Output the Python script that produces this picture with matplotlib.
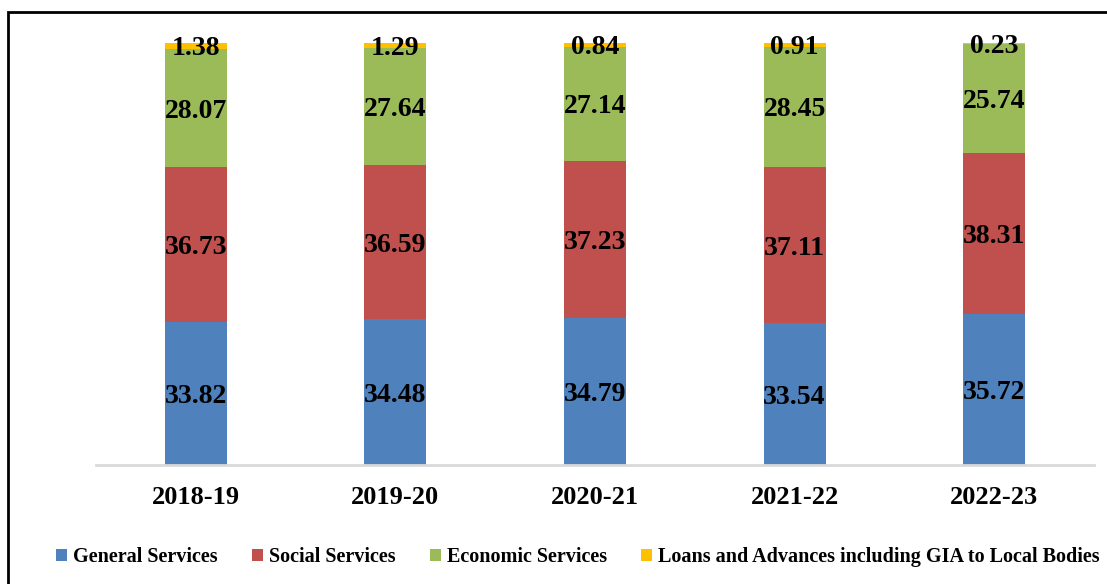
import numpy as np
import matplotlib.pyplot as plt
from matplotlib.patches import Rectangle

years = ["2018-19", "2019-20", "2020-21", "2021-22", "2022-23"]
general = [33.82, 34.48, 34.79, 33.54, 35.72]
social = [36.73, 36.59, 37.23, 37.11, 38.31]
economic = [28.07, 27.64, 27.14, 28.45, 25.74]
loans = [1.38, 1.29, 0.84, 0.91, 0.23]

series = [
    ("General Services", general, "#4F81BD"),
    ("Social Services", social, "#C0504D"),
    ("Economic Services", economic, "#9BBB59"),
    ("Loans and Advances including GIA to Local Bodies", loans, "#FFC000"),
]

plt.rcParams["font.family"] = ["Liberation Serif", "DejaVu Serif"]
plt.rcParams["font.weight"] = "bold"

W, H = 1107, 584
fig = plt.figure(figsize=(W / 100, H / 100), dpi=100)
ax = fig.add_axes([96 / W, 1 - 465 / H, (1094 - 96) / W, (465 - 43) / H])

x = np.arange(len(years))
bottom = np.zeros(len(years))
handles = []
for name, vals, col in series:
    vals = np.array(vals)
    b = ax.bar(x, vals, 0.31, bottom=bottom, color=col, label=name)
    handles.append(b)
    for xi, bi, v in zip(x, bottom, vals):
        ax.text(xi, bi + v / 2, f"{v:.2f}", ha="center", va="center_baseline",
                fontsize=20, fontweight="bold", color="black")
    bottom += vals

ax.set_xlim(-0.5, len(years) - 0.5)
ax.set_ylim(0, 100)
ax.set_xticks(x)
ax.set_xticklabels(years, fontsize=19, fontweight="bold")
ax.tick_params(axis="x", length=0, pad=15)
ax.set_yticks([])
for s in ["top", "left", "right"]:
    ax.spines[s].set_visible(False)
ax.spines["bottom"].set_color("#D9D9D9")
ax.spines["bottom"].set_linewidth(2)

fig.legend(handles=handles, loc="center", bbox_to_anchor=(578 / W, 1 - 557 / H),
           ncol=4, frameon=False, handlelength=0.55, handleheight=0.55,
           handletextpad=0.3, columnspacing=1.7, prop={"weight": "bold", "size": 14.5})

# outer frame
fig.patches.append(Rectangle((7.5 / W, -0.2), 2, 1.2 - 11.5 / H, transform=fig.transFigure,
                             fill=False, edgecolor="black", linewidth=2))

fig.savefig("out.png", dpi=100)
